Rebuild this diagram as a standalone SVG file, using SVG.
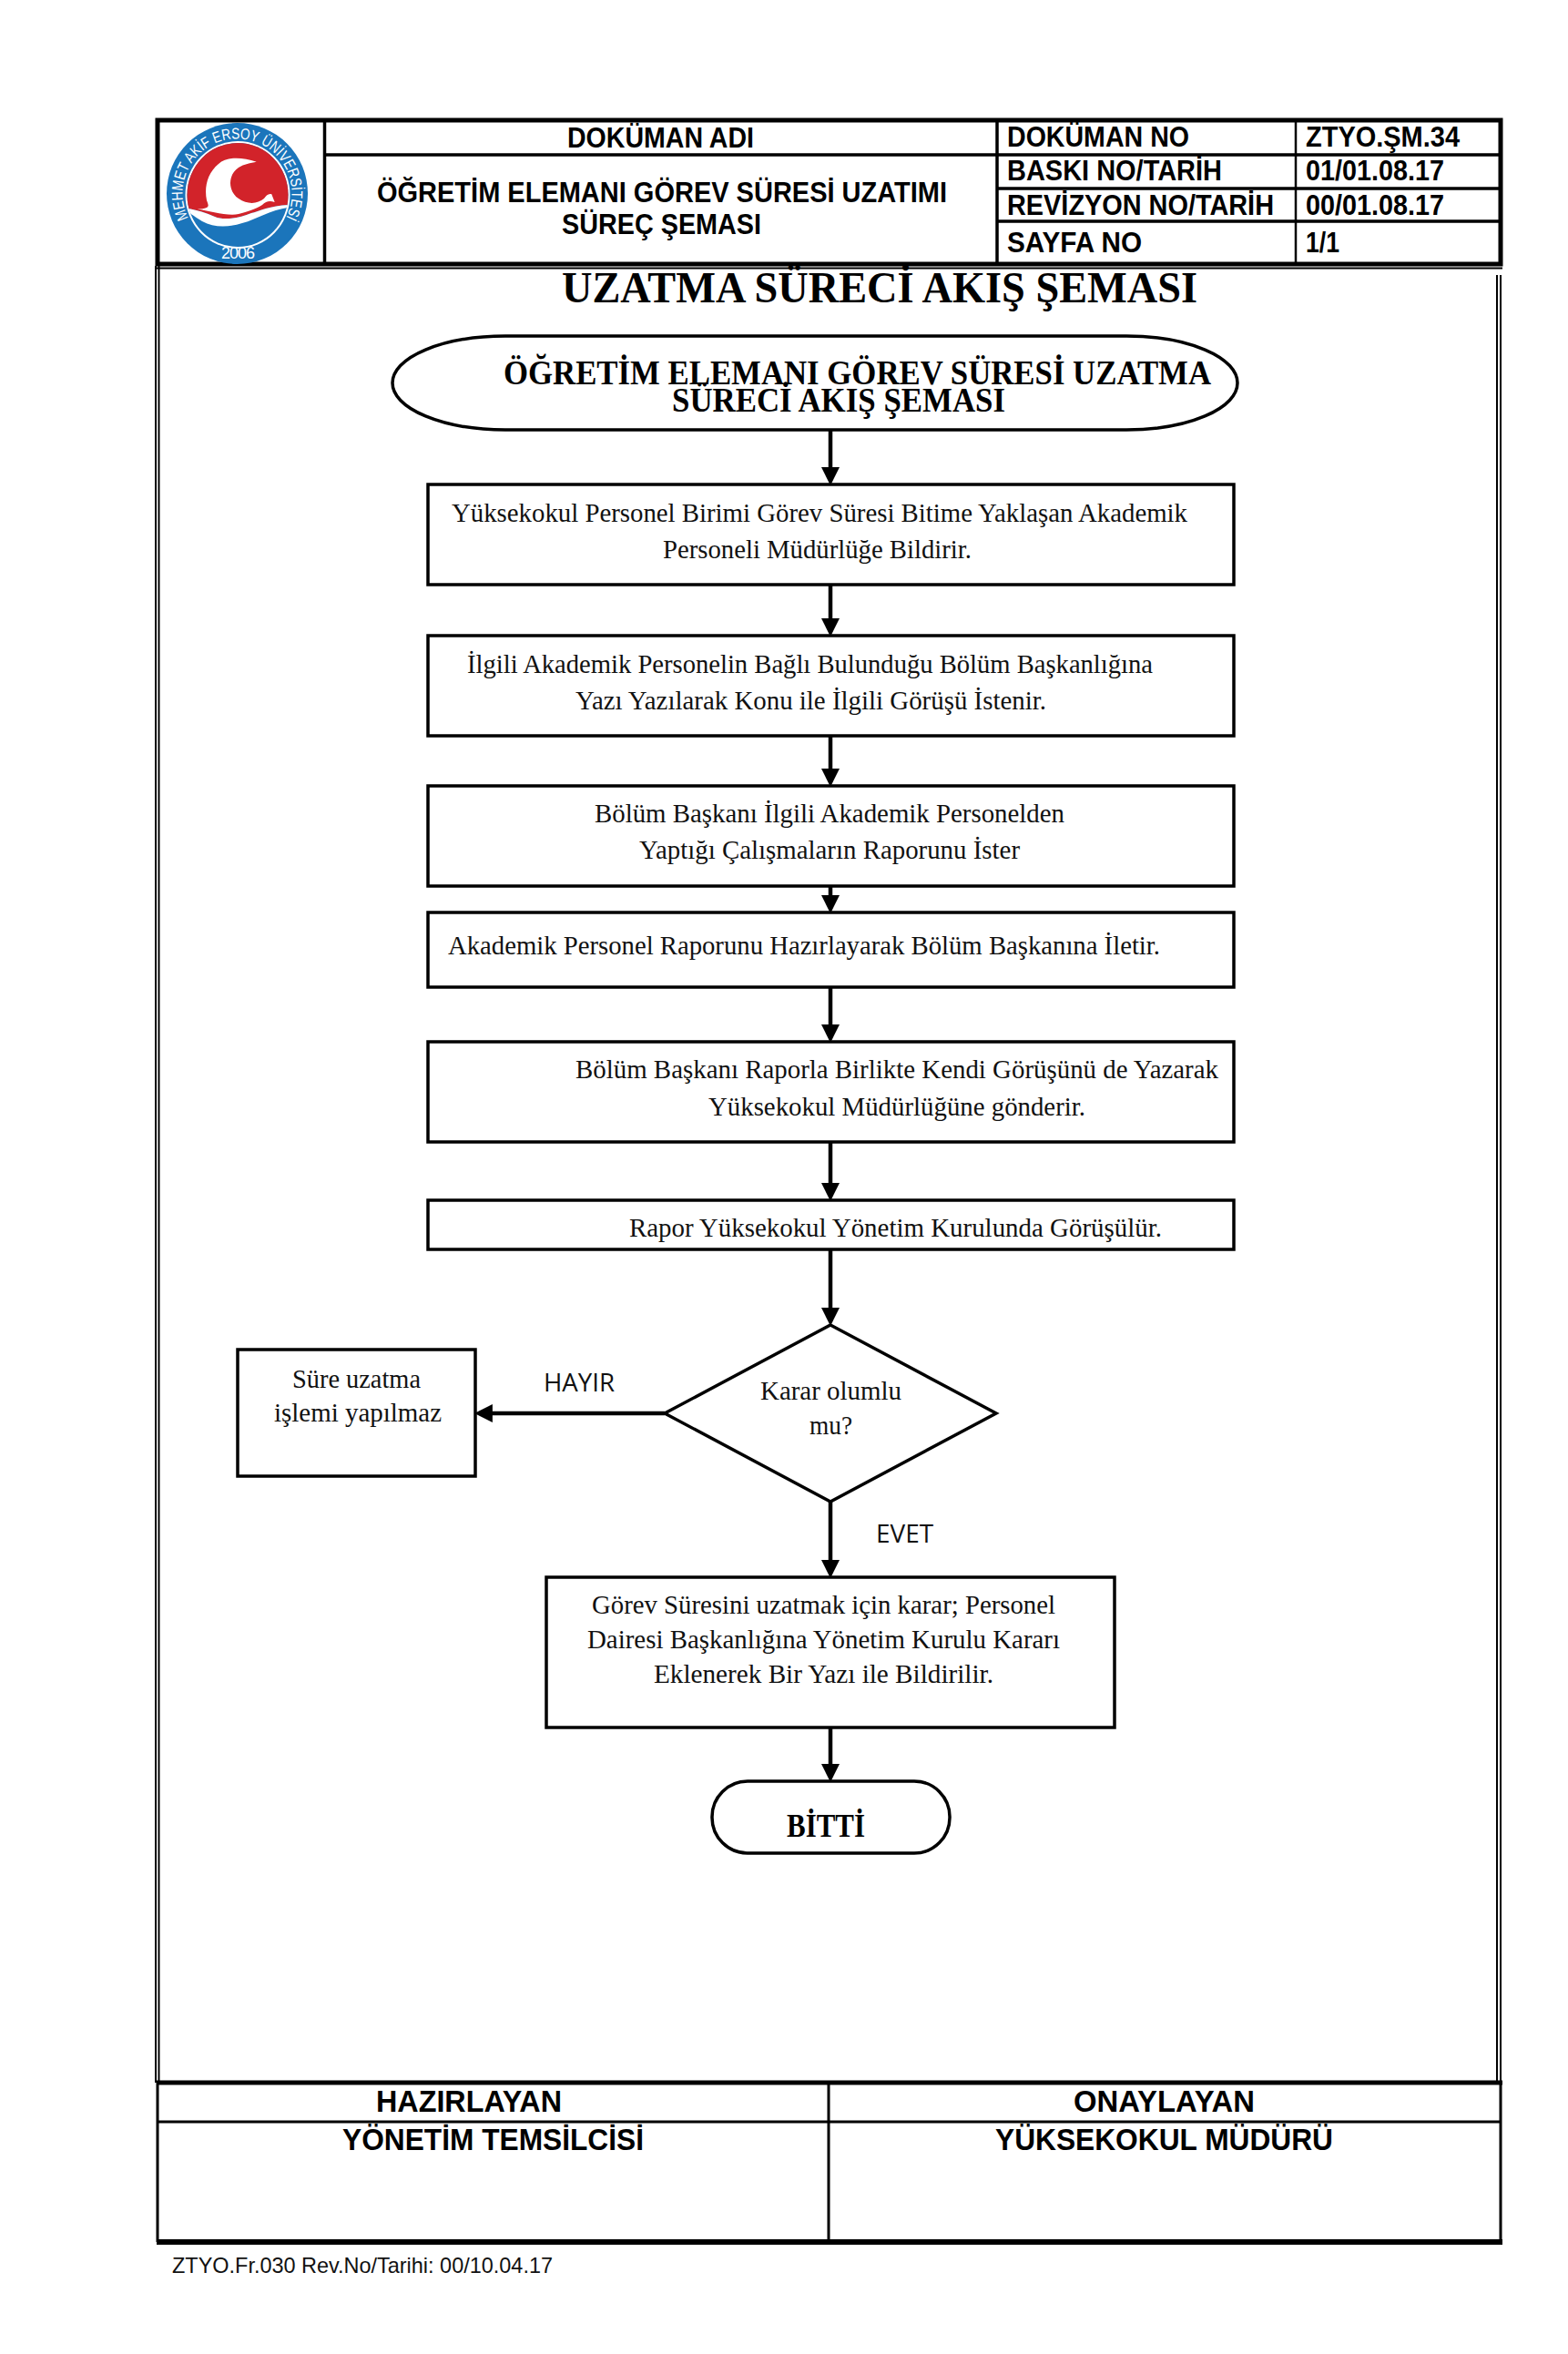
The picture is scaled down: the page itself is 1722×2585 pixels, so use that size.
<svg xmlns="http://www.w3.org/2000/svg" width="1722" height="2585" viewBox="0 0 1722 2585">
<style>
.hd{font-family:"Liberation Sans",Arial,sans-serif;font-weight:bold;font-size:31px;fill:#000}
.hb{font-family:"Liberation Sans",Arial,sans-serif;font-weight:bold;font-size:33px;fill:#000}
.tm{font-family:"Liberation Serif","Times New Roman",serif;font-size:30px;fill:#111}
.tb{font-family:"Liberation Serif","Times New Roman",serif;font-weight:bold;fill:#000}
.lb{font-family:"Open Sans","Liberation Sans",sans-serif;font-size:28px;fill:#111}
.ft{font-family:"Liberation Sans",Arial,sans-serif;font-size:24px;fill:#111}
.b{fill:#fff;stroke:#000;stroke-width:3.5}
.g{fill:none;stroke:#000}
.c{fill:none;stroke:#000;stroke-width:4.5;marker-end:url(#ah)}
</style>
<defs>
<marker id="ah" markerUnits="userSpaceOnUse" markerWidth="20" markerHeight="20" viewBox="0 0 18 18" refX="8" refY="9" orient="auto"><path d="M0 0L18 9L0 18Z" fill="#000"/></marker>
<clipPath id="inner"><ellipse cx="261" cy="214" rx="55.500" ry="57"/></clipPath>
</defs>
<rect width="1722" height="2585" fill="#fff"/>

<g id="frame">
<path class="g" stroke-width="2" d="M171 292V2287M174.500 292V2287M1644 302V2287M1648 302V2287"/>
</g>

<g id="header">
<path class="g" stroke-width="5" d="M173 132H1648V290H173Z"/>
<path class="g" stroke-width="2" d="M171 294.500H1650"/>
<path class="g" stroke-width="3.500" d="M356.500 132V291M1095 132V291M356 170H1648M1095 207H1648M1095 243H1648"/>
<path class="g" stroke-width="2.500" d="M1423 132V291"/>
<text class="hd" x="623" y="162" textLength="205" lengthAdjust="spacingAndGlyphs">DOKÜMAN ADI</text>
<text class="hd" x="414" y="222" textLength="626" lengthAdjust="spacingAndGlyphs">ÖĞRETİM ELEMANI GÖREV SÜRESİ UZATIMI</text>
<text class="hd" x="617" y="257" textLength="219" lengthAdjust="spacingAndGlyphs">SÜREÇ ŞEMASI</text>
<text class="hd" x="1106" y="161" textLength="200" lengthAdjust="spacingAndGlyphs">DOKÜMAN NO</text>
<text class="hd" x="1106" y="198" textLength="236" lengthAdjust="spacingAndGlyphs">BASKI NO/TARİH</text>
<text class="hd" x="1106" y="236" textLength="293" lengthAdjust="spacingAndGlyphs">REVİZYON NO/TARİH</text>
<text class="hd" x="1106" y="277" textLength="148" lengthAdjust="spacingAndGlyphs">SAYFA NO</text>
<text class="hd" x="1434" y="161" textLength="169" lengthAdjust="spacingAndGlyphs">ZTYO.ŞM.34</text>
<text class="hd" x="1434" y="198" textLength="152" lengthAdjust="spacingAndGlyphs">01/01.08.17</text>
<text class="hd" x="1434" y="236" textLength="152" lengthAdjust="spacingAndGlyphs">00/01.08.17</text>
<text class="hd" x="1434" y="277" textLength="37" lengthAdjust="spacingAndGlyphs">1/1</text>
</g>

<g id="logo">
<ellipse cx="260.500" cy="212.500" rx="77.500" ry="77.500" fill="#1b75bb"/>
<ellipse cx="261" cy="214" rx="57.500" ry="59" fill="#fff"/>
<g clip-path="url(#inner)">
<rect x="200" y="150" width="125" height="125" fill="#1b75bb"/>
<path d="M200 150H325V225C300 224 285 232 276 234C262 240 245 242 236 238C225 233 215 230 200 228Z" fill="#d2232a"/>
<path d="M200 228C215 230 225 233 236 238C245 242 262 240 276 234C285 232 300 224 325 225V227C300 228 285 240 266 245C250 250 235 250 222 243C212 237 207 233 200 228Z" fill="#fff"/>
<path d="M281.700 177.700C265 172 248 172 240 180C228 190 224 205 227 220C229 226 232 229 216.700 229.700C230 231 250 238 262 235C275 232 283 228 288 225C292 221 296 220 301.700 222L298.300 213.300C295 212 292 215 290 218C283 224 272 225 262 218C250 210 250 192 262 184C268 180 275 179 281.700 177.700Z" fill="#fff"/>
</g>
<path id="ringArc" d="M207 239.500A60 60 0 1 1 314 239.500" fill="none"/>
<text font-family="'Liberation Sans',Arial,sans-serif" font-size="17" fill="#fff"><textPath href="#ringArc" textLength="244" lengthAdjust="spacingAndGlyphs">MEHMET AKİF ERSOY ÜNİVERSİTESİ</textPath></text>
<text font-family="'Liberation Sans',Arial,sans-serif" font-size="18" fill="#fff" x="243" y="284" textLength="37" lengthAdjust="spacing">2006</text>
</g>

<text id="title" class="tb" font-size="48" x="617" y="332" textLength="698" lengthAdjust="spacingAndGlyphs">UZATMA SÜRECİ AKIŞ ŞEMASI</text>

<g id="connectors">
<path class="c" d="M912 472V522"/>
<path class="c" d="M912 642V688"/>
<path class="c" d="M912 808V853"/>
<path class="c" d="M912 973V992"/>
<path class="c" d="M912 1084V1134"/>
<path class="c" d="M912 1254V1308"/>
<path class="c" d="M912 1372V1445"/>
<path class="c" d="M730 1552H532"/>
<path class="c" d="M912 1649V1722"/>
<path class="c" d="M912 1897V1946"/>
</g>

<g id="start">
<path class="b" stroke-width="4" d="M555 369H1237A122 51.500 0 0 1 1237 472H555A124 51.500 0 0 1 555 369Z"/>
<text class="tb" font-size="38" x="553" y="422" textLength="777" lengthAdjust="spacingAndGlyphs">ÖĞRETİM ELEMANI GÖREV SÜRESİ UZATMA</text>
<text class="tb" font-size="38" x="738" y="452" textLength="366" lengthAdjust="spacingAndGlyphs">SÜRECİ AKIŞ ŞEMASI</text>
</g>

<g id="step1">
<rect class="b" x="470" y="532" width="885" height="110"/>
<text class="tm" x="496" y="573" textLength="808" lengthAdjust="spacingAndGlyphs">Yüksekokul Personel Birimi Görev Süresi Bitime Yaklaşan Akademik</text>
<text class="tm" x="728" y="613" textLength="339" lengthAdjust="spacingAndGlyphs">Personeli Müdürlüğe Bildirir.</text>
</g>
<g id="step2">
<rect class="b" x="470" y="698" width="885" height="110"/>
<text class="tm" x="513" y="739" textLength="753" lengthAdjust="spacingAndGlyphs">İlgili Akademik Personelin Bağlı Bulunduğu Bölüm Başkanlığına</text>
<text class="tm" x="632" y="779" textLength="517" lengthAdjust="spacingAndGlyphs">Yazı Yazılarak Konu ile İlgili Görüşü İstenir.</text>
</g>
<g id="step3">
<rect class="b" x="470" y="863" width="885" height="110"/>
<text class="tm" x="653" y="903" textLength="516" lengthAdjust="spacingAndGlyphs">Bölüm Başkanı İlgili Akademik Personelden</text>
<text class="tm" x="702" y="943" textLength="418" lengthAdjust="spacingAndGlyphs">Yaptığı Çalışmaların Raporunu İster</text>
</g>
<g id="step4">
<rect class="b" x="470" y="1002" width="885" height="82"/>
<text class="tm" x="492" y="1048" textLength="782" lengthAdjust="spacingAndGlyphs">Akademik Personel Raporunu Hazırlayarak Bölüm Başkanına İletir.</text>
</g>
<g id="step5">
<rect class="b" x="470" y="1144" width="885" height="110"/>
<text class="tm" x="632" y="1184" textLength="706" lengthAdjust="spacingAndGlyphs">Bölüm Başkanı Raporla Birlikte Kendi Görüşünü de Yazarak</text>
<text class="tm" x="778" y="1225" textLength="414" lengthAdjust="spacingAndGlyphs">Yüksekokul Müdürlüğüne gönderir.</text>
</g>
<g id="step6">
<rect class="b" x="470" y="1318" width="885" height="54"/>
<text class="tm" x="691" y="1358" textLength="585" lengthAdjust="spacingAndGlyphs">Rapor Yüksekokul Yönetim Kurulunda Görüşülür.</text>
</g>
<g id="decision">
<path class="b" d="M912 1455L1094 1552L912 1649L730 1552Z"/>
<text class="tm" x="835" y="1537" textLength="155" lengthAdjust="spacingAndGlyphs">Karar olumlu</text>
<text class="tm" x="889" y="1575" textLength="47" lengthAdjust="spacingAndGlyphs">mu?</text>
</g>
<g id="reject">
<rect class="b" x="261" y="1482" width="261" height="139"/>
<text class="tm" x="321" y="1524" textLength="141" lengthAdjust="spacingAndGlyphs">Süre uzatma</text>
<text class="tm" x="301" y="1561" textLength="184" lengthAdjust="spacingAndGlyphs">işlemi yapılmaz</text>
</g>
<text id="hayir" class="lb" x="597" y="1528" textLength="78" lengthAdjust="spacingAndGlyphs">HAYIR</text>
<text id="evet" class="lb" x="962" y="1694" textLength="63" lengthAdjust="spacingAndGlyphs">EVET</text>
<g id="approve">
<rect class="b" x="600" y="1732" width="624" height="165"/>
<text class="tm" x="650" y="1772" textLength="509" lengthAdjust="spacingAndGlyphs">Görev Süresini uzatmak için karar; Personel</text>
<text class="tm" x="645" y="1810" textLength="519" lengthAdjust="spacingAndGlyphs">Dairesi Başkanlığına Yönetim Kurulu Kararı</text>
<text class="tm" x="718" y="1848" textLength="373" lengthAdjust="spacingAndGlyphs">Eklenerek Bir Yazı ile Bildirilir.</text>
</g>
<g id="end">
<rect class="b" x="782" y="1956" width="261" height="79" rx="39" ry="39"/>
<text class="tb" font-size="35" x="864" y="2017" textLength="86" lengthAdjust="spacingAndGlyphs">BİTTİ</text>
</g>

<g id="signatures">
<path class="g" stroke-width="5" d="M172 2287H1650"/>
<path class="g" stroke-width="6" d="M172 2462H1650"/>
<path class="g" stroke-width="3" d="M173 2287V2462M1648 2287V2462M910 2287V2462M173 2330H1648"/>
<text class="hb" x="413" y="2319" textLength="204" lengthAdjust="spacingAndGlyphs">HAZIRLAYAN</text>
<text class="hb" x="1179" y="2319" textLength="199" lengthAdjust="spacingAndGlyphs">ONAYLAYAN</text>
<text class="hb" x="376" y="2361" textLength="331" lengthAdjust="spacingAndGlyphs">YÖNETİM TEMSİLCİSİ</text>
<text class="hb" x="1093" y="2361" textLength="371" lengthAdjust="spacingAndGlyphs">YÜKSEKOKUL MÜDÜRÜ</text>
</g>
<text id="footer" class="ft" x="189" y="2496" textLength="418" lengthAdjust="spacingAndGlyphs">ZTYO.Fr.030 Rev.No/Tarihi: 00/10.04.17</text>
</svg>
